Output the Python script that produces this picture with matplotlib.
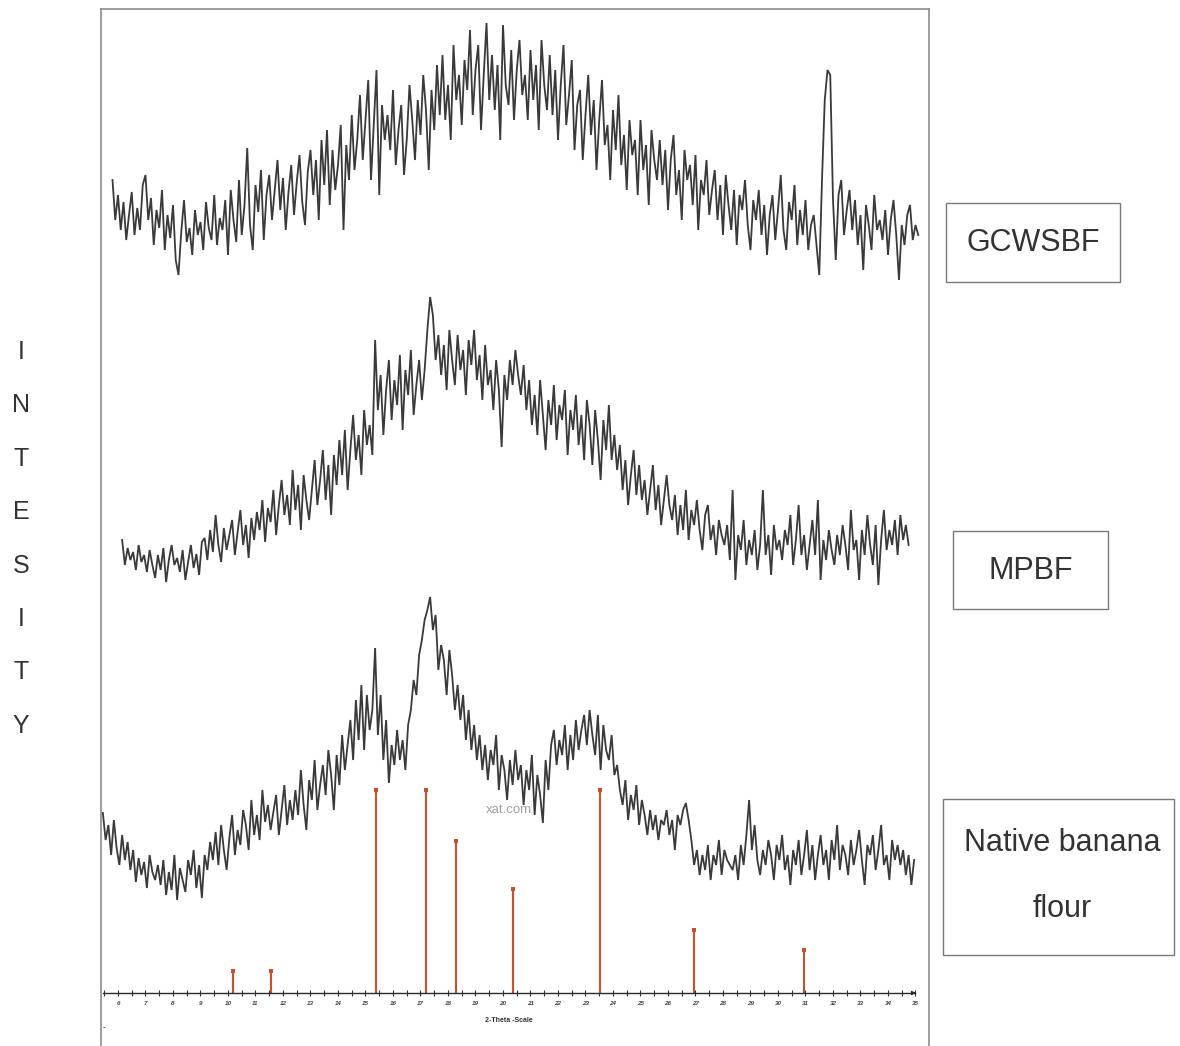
import numpy as np
import matplotlib
matplotlib.use("Agg")
import matplotlib.pyplot as plt
from matplotlib.patches import Rectangle

plt.rcParams['font.family'] = ['Liberation Sans', 'DejaVu Sans']

# ---- diffractogram data (2-theta in degrees, intensity in counts) ----
step = 0.1

gcwsbf_start = 5.8
gcwsbf = [
    110, 70, 95, 60, 88, 50, 75, 98, 55, 82,
    60, 105, 115, 70, 92, 45, 80, 62, 100, 40,
    75, 52, 85, 30, 15, 58, 90, 48, 62, 35,
    80, 55, 68, 40, 88, 62, 50, 95, 45, 72,
    60, 90, 35, 100, 70, 48, 110, 55, 85, 142,
    65, 40, 105, 78, 120, 50, 95, 115, 70, 100,
    130, 80, 112, 60, 98, 125, 75, 108, 135, 88,
    65, 118, 140, 95, 130, 70, 150, 105, 160, 85,
    140, 100, 125, 165, 60, 145, 110, 175, 120, 150,
    195, 130, 170, 210, 110, 165, 220, 95, 185, 150,
    175, 140, 200, 125, 160, 185, 115, 150, 205, 170,
    130, 190, 155, 215, 180, 120, 200, 160, 225, 175,
    235, 170, 205, 150, 245, 190, 215, 165, 230, 200,
    260, 175, 220, 245, 160, 215, 267, 190, 235, 180,
    225, 150, 265, 205, 185, 240, 170, 220, 250, 195,
    215, 170, 240, 190, 225, 160, 250, 205, 180, 235,
    175, 220, 150, 205, 245, 165, 195, 230, 140, 185,
    200, 130, 175, 215, 155, 190, 120, 170, 210, 145,
    165, 110, 180, 140, 195, 125, 155, 100, 170, 135,
    150, 95, 170, 120, 145, 85, 160, 130, 110, 150,
    105, 140, 80, 130, 155, 95, 120, 70, 140, 110,
    125, 85, 135, 60, 110, 95, 130, 75, 100, 120,
    70, 105, 55, 115, 85, 60, 100, 45, 95, 80,
    110, 65, 40, 90, 70, 100, 55, 85, 35, 75,
    95, 50, 80, 115, 60, 40, 88, 70, 105, 45,
    80, 55, 90, 40, 65, 75, 45, 15, 110, 190,
    220, 215, 90, 30, 95, 110, 55, 80, 100, 60,
    90, 45, 75, 20, 85, 65, 40, 95, 60, 70,
    50, 80, 35, 70, 90, 55, 10, 65, 45, 75,
    85, 50, 65, 55,
]

mpbf_start = 6.15
mpbf = [
    60, 35, 52, 40, 48, 30, 55, 38, 45, 28,
    50, 35, 22, 45, 30, 52, 18, 40, 55, 35,
    42, 28, 50, 20, 38, 55, 32, 46, 25, 58,
    62, 40, 70, 48, 85, 55, 38, 72, 50, 65,
    80, 45, 68, 90, 55, 75, 42, 82, 60, 88,
    70, 100, 58, 92, 78, 110, 65, 95, 120, 85,
    105, 75, 130, 90, 115, 70, 125, 100, 80, 110,
    140, 95, 120, 150, 100, 135, 85, 145, 115, 160,
    125, 170, 110, 150, 185, 140, 165, 125, 190, 155,
    175, 145, 260, 190, 225, 165, 210, 240, 180, 220,
    195, 245, 170, 230, 205, 250, 185, 215, 240, 200,
    230, 270, 303, 285, 240, 265, 225, 255, 210, 270,
    240, 215, 265, 230, 250, 205, 260, 235, 270, 220,
    245, 200, 255, 215, 230, 190, 240, 210, 153, 225,
    200, 240, 215, 250, 225, 205, 235, 190, 220, 175,
    205, 165, 220, 185, 150, 200, 175, 215, 160, 195,
    180, 210, 145, 190, 170, 205, 155, 185, 140, 200,
    175, 135, 190, 160, 120, 180, 150, 195, 140, 165,
    130, 155, 110, 140, 95, 125, 150, 105, 135, 100,
    120, 85, 110, 135, 90, 115, 75, 100, 125, 95,
    80, 105, 65, 95, 70, 110, 60, 90, 75, 100,
    70, 50, 85, 95, 60, 75, 45, 80, 65, 55,
    75, 40, 110, 20, 65, 50, 80, 35, 60, 45,
    70, 30, 55, 110, 45, 65, 25, 75, 50, 60,
    40, 70, 55, 85, 35, 60, 95, 45, 65, 30,
    55, 80, 45, 100, 20, 60, 40, 70, 50, 35,
    65, 45, 75, 55, 30, 90, 50, 60, 20, 70,
    45, 85, 55, 35, 75, 15, 60, 90, 50, 70,
    55, 80, 45, 85, 60, 75, 55,
]

native_start = 5.45
native = [
    97, 70, 85, 55, 90, 62, 45, 75, 50, 68,
    40, 60, 28, 52, 35, 48, 22, 55, 38, 30,
    45, 25, 50, 15, 38, 20, 55, 10, 42, 30,
    18, 50, 35, 60, 22, 45, 12, 55, 40, 68,
    50, 78, 45, 85, 60, 40, 72, 95, 55, 80,
    65, 100, 85, 60, 110, 75, 95, 70, 120, 88,
    105, 80, 98, 115, 75, 100, 125, 85, 110, 90,
    120, 95, 140, 105, 80, 130, 110, 150, 100, 125,
    145, 115, 160, 135, 100, 155, 125, 175, 140, 165,
    190, 150, 210, 170, 225, 160, 215, 180, 200, 262,
    175, 215, 150, 190, 127, 165, 145, 180, 150, 170,
    140, 185, 200, 230, 215, 255, 270, 290, 300, 313,
    280, 295, 240, 265, 250, 215, 260, 235, 200, 225,
    190, 215, 170, 200, 160, 185, 150, 175, 140, 165,
    130, 160, 145, 175, 120, 155, 140, 110, 150, 125,
    160, 130, 145, 105, 140, 120, 155, 95, 135, 115,
    87, 150, 120, 165, 180, 145, 170, 155, 185, 140,
    175, 150, 190, 160, 180, 195, 165, 200, 175, 155,
    195, 140, 185, 160, 150, 175, 135, 145, 120, 105,
    130, 90, 115, 100, 125, 85, 110, 95, 75, 100,
    80, 95, 70, 90, 85, 100, 75, 90, 60, 95,
    85, 100, 107, 90, 70, 45, 60, 35, 55, 40,
    65, 30, 55, 45, 70, 35, 60, 50, 45, 40,
    55, 30, 65, 45, 75, 110, 60, 85, 50, 35,
    60, 45, 70, 55, 30, 65, 50, 75, 40, 55,
    25, 60, 45, 70, 35, 55, 80, 40, 65, 30,
    55, 75, 45, 60, 30, 70, 50, 85, 40, 65,
    55, 35, 70, 45, 60, 80, 50, 25, 65, 55,
    75, 40, 60, 85, 45, 55, 30, 70, 50, 65,
    45, 60, 35, 55, 25, 50,
]

# reference stick pattern (2-theta, relative intensity %)
ref_pos = [10.18, 11.56, 15.38, 17.20, 18.29, 20.36, 23.53, 26.95, 30.95]
ref_rel = [11, 11, 100, 100, 75, 51, 100, 31, 21]

major_ticks = list(range(6, 36))
minor_ticks = [t + 0.5 for t in range(5, 35)]

sample_labels = ["GCWSBF", "MPBF", "Native banana\nflour"]

# ---- layout ----
W, H = 1180, 1046
fig = plt.figure(figsize=(W / 100, H / 100), dpi=100)
fig.patch.set_facecolor("white")


def fx(px):
    return px / W


def fy(py):
    return 1 - py / H


ax = fig.add_axes([fx(101), 0, fx(929) - fx(101), fy(9)])
ax.set_xlim(5.382, 35.491)
ax.set_ylim(0, 1037)

trace_color = "#3a3a3a"
offsets = [756, 446, 136]
series = [(gcwsbf_start, gcwsbf), (mpbf_start, mpbf), (native_start, native)]
for (start, vals), off in zip(series, offsets):
    vals = np.asarray(vals, dtype=float)
    x = start + step * np.arange(len(vals))
    ax.plot(x, vals + off, color=trace_color, lw=1.3, solid_joinstyle="miter")

# stick pattern rising from the 2-theta axis
axis_level = 53
stick_scale = 2.03
stick_color = "#c9502e"
tops = [axis_level + stick_scale * r for r in ref_rel]
ax.vlines(ref_pos, axis_level, tops, color=stick_color, lw=1.5)
ax.plot(ref_pos, tops, ls="none", marker="s", ms=3.2, color=stick_color,
        markeredgewidth=0)

# frame
for side in ("left", "right", "top"):
    ax.spines[side].set_color("#8c8c8c")
    ax.spines[side].set_linewidth(1.2)
ax.spines["bottom"].set_position(("data", axis_level))
ax.spines["bottom"].set_bounds(5.45, 35.0)
ax.spines["bottom"].set_color("#2a2a2a")
ax.spines["bottom"].set_linewidth(1.0)
ax.set_yticks([])
ax.set_xticks(major_ticks)
ax.set_xticks(minor_ticks, minor=True)
ax.set_xticklabels([str(t) for t in major_ticks])
ax.tick_params(axis="x", which="both", direction="inout", length=5,
               width=0.8, color="#333333", labelsize=4.5, pad=3,
               labelcolor="#444444")
for lbl in ax.get_xticklabels():
    lbl.set_fontweight("bold")
    lbl.set_fontstyle("italic")
ax.annotate("", xy=(35.12, axis_level), xytext=(34.85, axis_level),
            arrowprops=dict(arrowstyle="-|>", color="#2a2a2a", lw=0.8,
                            mutation_scale=6), annotation_clip=False)

ax.text(20.2, 26, "2-Theta -Scale", ha="center", va="center",
        fontsize=5, fontweight="bold", color="#333333")
ax.text(5.5, 18, "-", ha="center", va="center", fontsize=6,
        fontweight="bold", color="#333333")
ax.text(20.2, 236, "xat.com", ha="center", va="center", fontsize=9.5,
        color="#a0a0a0")

# sample label boxes
boxes = [(946, 203, 1120, 282), (953, 531, 1108, 609), (943, 799, 1174, 955)]
text_pos = [(1033, 243), (1031, 571), (1062, 876)]
for (x0, y0, x1, y1), (tx, ty), lab in zip(boxes, text_pos, sample_labels):
    fig.patches.append(Rectangle((fx(x0), fy(y1)), fx(x1) - fx(x0),
                                 fy(y0) - fy(y1), transform=fig.transFigure,
                                 fill=False, edgecolor="#7a7a7a", lw=1.0))
    fig.text(fx(tx), fy(ty), lab, ha="center", va="center", fontsize=22,
             color="#333333", linespacing=2.6, multialignment="center")

# vertical axis title spelled letter by letter
for i, ch in enumerate("INTESITY"):
    fig.text(fx(21), fy(352 + i * 53.4), ch, ha="center", va="center",
             fontsize=18, color="#333333")

fig.savefig("out.png", dpi=100, facecolor="white")
